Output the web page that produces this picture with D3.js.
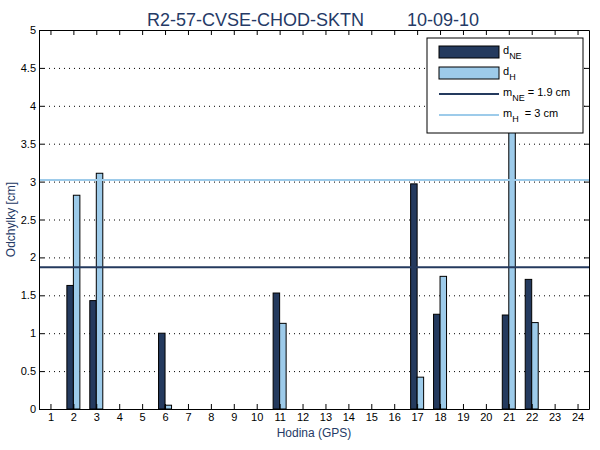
<!DOCTYPE html>
<html>
<head>
<meta charset="utf-8">
<script src="https://cdn.jsdelivr.net/npm/d3@7"></script>
<style>
  body { margin: 0; background: #fff; }
  svg { font-family: "Liberation Sans", Arial, sans-serif; }
</style>
</head>
<body>
<svg id="chart" width="600" height="450"></svg>
<script>
// data
const hours = d3.range(1, 25);
const dNE = [0, 1.63, 1.43, 0, 0, 1.00, 0, 0, 0, 0, 1.53, 0, 0, 0, 0, 0, 2.97, 1.25, 0, 0, 1.24, 1.71, 0, 0];
const dH  = [0, 2.82, 3.11, 0, 0, 0.05, 0, 0, 0, 0, 1.13, 0, 0, 0, 0, 0, 0.42, 1.75, 0, 0, 4.2, 1.14, 0, 0];
const mNE = 1.87;
const mH = 3.02;
const yTicks = [0, 0.5, 1, 1.5, 2, 2.5, 3, 3.5, 4, 4.5, 5];

const darkCol = "#243a5e";
const lightCol = "#9dcbea";
const labelCol = "#253a66";

const margin = { top: 30, right: 11, bottom: 41, left: 39 };
const width = 600 - margin.left - margin.right;
const height = 450 - margin.top - margin.bottom;

const svg = d3.select("#chart");
const g = svg.append("g").attr("transform", `translate(${margin.left},${margin.top})`);

const x = d3.scaleLinear().domain([0.5, 24.5]).range([0, width]);
const y = d3.scaleLinear().domain([0, 5]).range([height, 0]);
const bw = 6.5;

// dotted grid
g.selectAll(".grid")
  .data(yTicks.slice(1, -1))
  .enter()
  .append("line")
  .attr("x1", 0).attr("x2", width)
  .attr("y1", d => y(d) + 0.5).attr("y2", d => y(d) + 0.5)
  .attr("stroke", "#000")
  .attr("stroke-width", 1)
  .attr("stroke-dasharray", "1,4");

// bars
const pairs = hours.map((h, i) => ({ h, ne: dNE[i], hh: dH[i] }));
g.selectAll(".ne")
  .data(pairs.filter(d => d.ne > 0))
  .enter()
  .append("rect")
  .attr("x", d => x(d.h) - bw)
  .attr("y", d => y(d.ne))
  .attr("width", bw)
  .attr("height", d => height - y(d.ne))
  .attr("fill", darkCol)
  .attr("stroke", "#000")
  .attr("stroke-width", 1);

g.selectAll(".hh")
  .data(pairs.filter(d => d.hh > 0))
  .enter()
  .append("rect")
  .attr("x", d => x(d.h))
  .attr("y", d => y(d.hh))
  .attr("width", bw)
  .attr("height", d => height - y(d.hh))
  .attr("fill", lightCol)
  .attr("stroke", "#000")
  .attr("stroke-width", 1);

// mean lines
g.append("line")
  .attr("x1", 0).attr("x2", width)
  .attr("y1", y(mNE)).attr("y2", y(mNE))
  .attr("stroke", darkCol).attr("stroke-width", 2);
g.append("line")
  .attr("x1", 0).attr("x2", width)
  .attr("y1", y(mH)).attr("y2", y(mH))
  .attr("stroke", lightCol).attr("stroke-width", 2);

// axes (matlab-style box with inward ticks)
const axB = g.append("g")
  .attr("transform", `translate(0,${height})`)
  .call(d3.axisBottom(x).tickValues(hours).tickSizeInner(-5).tickSizeOuter(0).tickPadding(4));
const axT = g.append("g")
  .call(d3.axisTop(x).tickValues(hours).tickSizeInner(-5).tickSizeOuter(0).tickFormat(""));
const axL = g.append("g")
  .call(d3.axisLeft(y).tickValues(yTicks).tickSizeInner(-5).tickSizeOuter(0).tickPadding(3)
    .tickFormat(d => d3.format("")(d)));
const axR = g.append("g")
  .attr("transform", `translate(${width},0)`)
  .call(d3.axisRight(y).tickValues(yTicks).tickSizeInner(-5).tickSizeOuter(0).tickFormat(""));

[axB, axT, axL, axR].forEach(a => {
  a.select(".domain").attr("stroke", "#000");
  a.selectAll("line").attr("stroke", "#000");
  a.selectAll("text").attr("fill", "#000").style("font-size", "11px")
    .style("font-family", "'Liberation Sans', Arial, sans-serif");
});

// title and labels
svg.append("text")
  .attr("x", 147).attr("y", 26)
  .attr("fill", labelCol)
  .style("font-size", "18px")
  .text("R2-57-CVSE-CHOD-SKTN");
svg.append("text")
  .attr("x", 407).attr("y", 26)
  .attr("fill", labelCol)
  .style("font-size", "18px")
  .text("10-09-10");

svg.append("text")
  .attr("x", margin.left + width / 2).attr("y", 437)
  .attr("text-anchor", "middle")
  .attr("fill", labelCol)
  .style("font-size", "12px")
  .text("Hodina (GPS)");

svg.append("text")
  .attr("transform", `translate(15,${margin.top + height / 2}) rotate(-90)`)
  .attr("text-anchor", "middle")
  .attr("fill", labelCol)
  .style("font-size", "12px")
  .text("Odchylky [cm]");

// legend
const lg = svg.append("g").attr("transform", "translate(427,38)");
lg.append("rect")
  .attr("width", 156).attr("height", 95)
  .attr("fill", "#fff").attr("stroke", "#000");

const legendItems = [
  { type: "rect", col: darkCol, main: "d", sub: "NE", rest: "" },
  { type: "rect", col: lightCol, main: "d", sub: "H", rest: "" },
  { type: "line", col: darkCol, main: "m", sub: "NE", rest: " = 1.9 cm" },
  { type: "line", col: lightCol, main: "m", sub: "H", rest: "  = 3 cm" }
];
legendItems.forEach((d, i) => {
  const cy = 14 + i * 21;
  if (d.type === "rect") {
    lg.append("rect")
      .attr("x", 12).attr("y", cy - 6).attr("width", 60).attr("height", 12)
      .attr("fill", d.col).attr("stroke", "#000");
  } else {
    lg.append("line")
      .attr("x1", 12).attr("x2", 72).attr("y1", cy).attr("y2", cy)
      .attr("stroke", d.col).attr("stroke-width", 2);
  }
  const t = lg.append("text")
    .attr("x", 76).attr("y", cy + 2)
    .attr("fill", "#000")
    .attr("xml:space", "preserve")
    .style("font-size", "11px");
  t.append("tspan").text(d.main);
  t.append("tspan").attr("dy", 5).style("font-size", "9px").text(d.sub);
  if (d.rest) t.append("tspan").attr("dy", -5).text(d.rest);
});
</script>
</body>
</html>
